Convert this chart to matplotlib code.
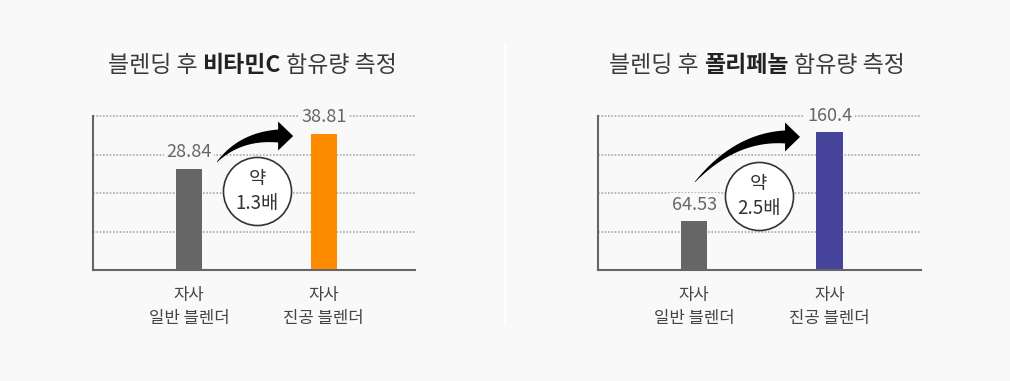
import numpy as np
import matplotlib
matplotlib.use('Agg')
import matplotlib.pyplot as plt
from matplotlib.lines import Line2D
from matplotlib.patches import Polygon

plt.rcParams['font.family'] = ['Noto Sans CJK KR', 'DejaVu Sans']

# data
categories = ['자사\n일반 블렌더', '자사\n진공 블렌더']
vitc_values = [28.84, 38.81]
poly_values = [64.53, 160.4]
vitc_labels = ['28.84', '38.81']
poly_labels = ['64.53', '160.4']
ratio_labels = ['약\n1.3배', '약\n2.5배']
titles = [('블렌딩 후 ', '비타민C', ' 함유량 측정'),
          ('블렌딩 후 ', '폴리페놀', ' 함유량 측정')]
bar_colors = [['#666666', '#ff8c00'], ['#666666', '#46439a']]
y_limits = [(0, 44), (12, 178)]

W, H = 1010, 381
BG = '#f9f9f9'

# layout (pixels / axes fractions)
ax_left = [93, 598]
ax_width = [322, 323]
# curved arrow: start, control point, head base (axes fraction)
arrow_pts = [[(0.385, 0.701), (0.457, 0.870), (0.575, 0.870)],
             [(0.300, 0.571), (0.424, 0.864), (0.579, 0.864)]]
circle_pos = [(0.509, 0.513), (0.498, 0.48)]
title_cx = [252, 757]


def tapered_arrow(ax, pts, tail_w=13, head_w=29, head_len=15):
    # quadratic bezier tail that widens towards a triangular head (pixel units)
    p0, p1, p2 = [np.array(ax.transAxes.transform(p)) for p in pts]
    t = np.linspace(0, 1, 60)[:, None]
    curve = (1 - t) ** 2 * p0 + 2 * (1 - t) * t * p1 + t ** 2 * p2
    tang = 2 * (1 - t) * (p1 - p0) + 2 * t * (p2 - p1)
    tang /= np.linalg.norm(tang, axis=1)[:, None]
    norm = np.column_stack([-tang[:, 1], tang[:, 0]])
    w = (0.5 + (tail_w - 0.5) * t) / 2
    left = curve + norm * w
    right = curve - norm * w
    d = tang[-1]
    n = norm[-1]
    head = [p2 + n * head_w / 2, p2 + d * head_len, p2 - n * head_w / 2]
    poly = np.vstack([left, head, right[::-1]])
    poly = ax.transAxes.inverted().transform(poly)
    ax.add_patch(Polygon(poly, closed=True, transform=ax.transAxes, facecolor='black',
                         edgecolor='none', clip_on=False, zorder=7))


fig = plt.figure(figsize=(W / 100, H / 100), dpi=100, facecolor=BG)

panels = [(vitc_values, vitc_labels), (poly_values, poly_labels)]
title_texts = []
for i, (values, labels) in enumerate(panels):
    ax = fig.add_axes([ax_left[i] / W, (H - 270) / H, ax_width[i] / W, 154 / H])
    ax.set_facecolor('none')
    x = np.arange(len(values))
    ax.bar(x, values, width=0.193, color=bar_colors[i], zorder=2)
    ax.set_xlim(-0.711, 1.676)
    lo, hi = y_limits[i]
    ax.set_ylim(lo, hi)
    ax.set_yticks(np.linspace(lo, hi, 5)[1:])
    ax.grid(axis='y', color='#aaaaaa', linestyle=(0, (1, 1)), lw=1.2)
    for gl in ax.get_ygridlines():
        gl.set_clip_on(False)
    ax.tick_params(axis='y', length=0, labelleft=False)
    ax.set_xticks(x, categories, fontsize=12, color='#444444', linespacing=1.45)
    ax.tick_params(axis='x', length=0, pad=12)
    for s in ['top', 'right']:
        ax.spines[s].set_visible(False)
    for s in ['left', 'bottom']:
        ax.spines[s].set_color('#666666')
        ax.spines[s].set_linewidth(1.5)

    for xi, v, lbl in zip(x, values, labels):
        ax.annotate(lbl, (xi, v), xytext=(0, 12), textcoords='offset points',
                    ha='center', va='center', fontsize=13, color='#666666',
                    bbox=dict(boxstyle='square,pad=0.15', fc=BG, ec='none'), zorder=4)

    # ratio circle
    cx, cy = circle_pos[i]
    ax.scatter([cx], [cy], s=49 ** 2, transform=ax.transAxes, facecolor='white',
               edgecolor='#333333', linewidth=1.2, zorder=5, clip_on=False)
    ax.text(cx, cy, ratio_labels[i], transform=ax.transAxes, ha='center', va='center',
            fontsize=13.5, color='#333333', linespacing=1.3, zorder=6)

    tapered_arrow(ax, arrow_pts[i])

    parts = []
    for j, s in enumerate(titles[i]):
        t = fig.text(0, (H - 65) / H, s, fontsize=16.5, va='center', ha='left',
                     color='#222222' if j == 1 else '#3a3a3a',
                     weight='bold' if j == 1 else 'normal')
        parts.append(t)
    title_texts.append(parts)

# center the mixed-weight titles
fig.canvas.draw()
r = fig.canvas.get_renderer()
for i, parts in enumerate(title_texts):
    widths = [t.get_window_extent(r).width for t in parts]
    x0 = title_cx[i] - sum(widths) / 2
    for t, w in zip(parts, widths):
        t.set_x(x0 / W)
        x0 += w

# separator
fig.add_artist(Line2D([505 / W, 505 / W], [(H - 45) / H, (H - 325) / H], color='white', lw=1.6))

fig.savefig('out.png', dpi=100, facecolor=BG)
